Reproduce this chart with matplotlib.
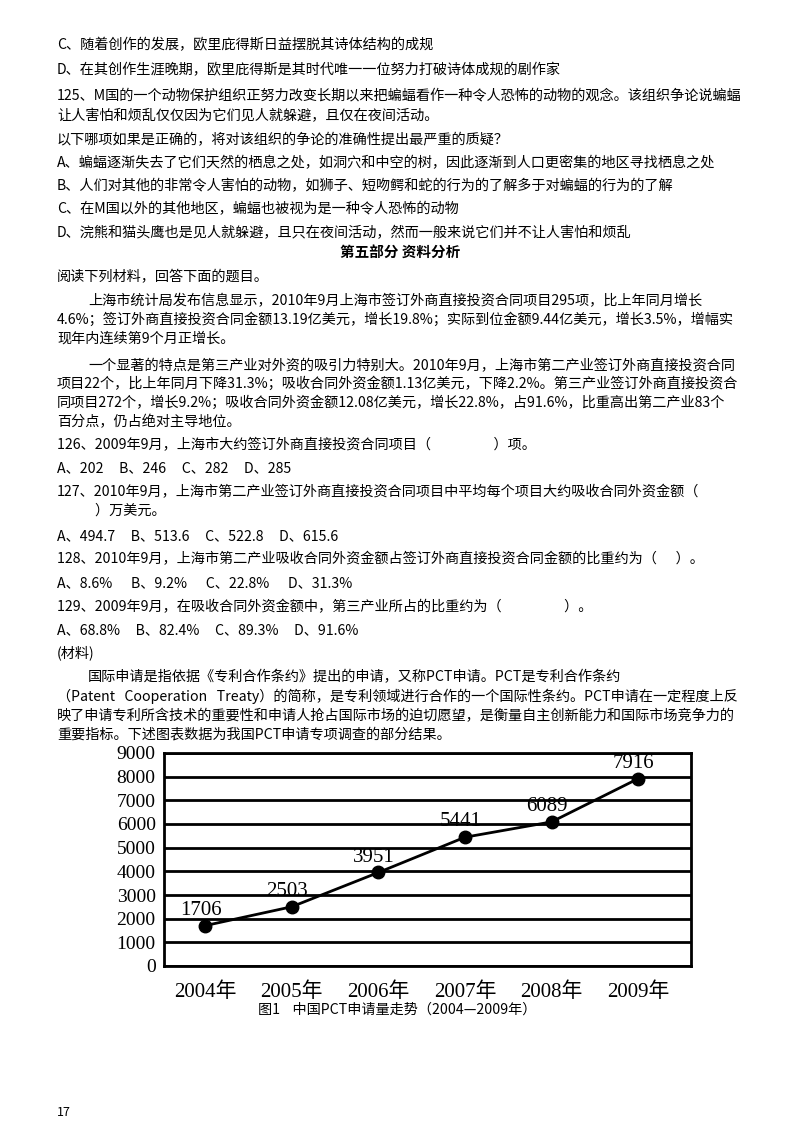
import matplotlib
matplotlib.use("Agg")
import matplotlib.pyplot as plt

years = ["2004年", "2005年", "2006年", "2007年", "2008年", "2009年"]
values = [1706, 2503, 3951, 5441, 6089, 7916]
yticks = [0, 1000, 2000, 3000, 4000, 5000, 6000, 7000, 8000, 9000]

W, H = 800, 1132
fig = plt.figure(figsize=(W/100, H/100), dpi=100)
fam = ["Noto Sans CJK SC", "DejaVu Sans"]
serif = ["Liberation Serif", "Noto Sans CJK SC"]

lines = [
    (57, 45, "C、随着创作的发展，欧里庇得斯日益摆脱其诗体结构的成规"),
    (57, 70, "D、在其创作生涯晚期，欧里庇得斯是其时代唯一一位努力打破诗体成规的剧作家"),
    (57, 95, "125、M国的一个动物保护组织正努力改变长期以来把蝙蝠看作一种令人恐怖的动物的观念。该组织争论说蝙蝠"),
    (57, 116, "让人害怕和烦乱仅仅因为它们见人就躲避，且仅在夜间活动。"),
    (57, 140, "以下哪项如果是正确的，将对该组织的争论的准确性提出最严重的质疑？"),
    (57, 163, "A、蝙蝠逐渐失去了它们天然的栖息之处，如洞穴和中空的树，因此逐渐到人口更密集的地区寻找栖息之处"),
    (57, 186, "B、人们对其他的非常令人害怕的动物，如狮子、短吻鳄和蛇的行为的了解多于对蝙蝠的行为的了解"),
    (57, 209, "C、在M国以外的其他地区，蝙蝠也被视为是一种令人恐怖的动物"),
    (57, 233, "D、浣熊和猫头鹰也是见人就躲避，且只在夜间活动，然而一般来说它们并不让人害怕和烦乱"),
    (57, 277, "阅读下列材料，回答下面的题目。"),
    (88, 301, "上海市统计局发布信息显示，2010年9月上海市签订外商直接投资合同项目295项，比上年同月增长"),
    (57, 320, "4.6%；签订外商直接投资合同金额13.19亿美元，增长19.8%；实际到位金额9.44亿美元，增长3.5%，增幅实"),
    (57, 339, "现年内连续第9个月正增长。"),
    (88, 366, "一个显著的特点是第三产业对外资的吸引力特别大。2010年9月，上海市第二产业签订外商直接投资合同"),
    (57, 384, "项目22个，比上年同月下降31.3%；吸收合同外资金额1.13亿美元，下降2.2%。第三产业签订外商直接投资合"),
    (57, 403, "同项目272个，增长9.2%；吸收合同外资金额12.08亿美元，增长22.8%，占91.6%，比重高出第二产业83个"),
    (57, 422, "百分点，仍占绝对主导地位。"),
    (57, 445, "126、2009年9月，上海市大约签订外商直接投资合同项目（                    ）项。"),
    (57, 468, "A、202     B、246     C、282     D、285"),
    (57, 492, "127、2010年9月，上海市第二产业签订外商直接投资合同项目中平均每个项目大约吸收合同外资金额（"),
    (70, 511, "        ）万美元。"),
    (57, 536, "A、494.7     B、513.6     C、522.8     D、615.6"),
    (57, 559, "128、2010年9月，上海市第二产业吸收合同外资金额占签订外商直接投资合同金额的比重约为（      ）。"),
    (57, 583, "A、8.6%      B、9.2%      C、22.8%      D、31.3%"),
    (57, 607, "129、2009年9月，在吸收合同外资金额中，第三产业所占的比重约为（                    ）。"),
    (57, 630, "A、68.8%     B、82.4%     C、89.3%     D、91.6%"),
    (57, 653, "(材料)"),
    (88, 677, "国际申请是指依据《专利合作条约》提出的申请，又称PCT申请。PCT是专利合作条约"),
    (57, 696, "（Patent   Cooperation   Treaty）的简称，是专利领域进行合作的一个国际性条约。PCT申请在一定程度上反"),
    (57, 716, "映了申请专利所含技术的重要性和申请人抢占国际市场的迫切愿望，是衡量自主创新能力和国际市场竞争力的"),
    (57, 735, "重要指标。下述图表数据为我国PCT申请专项调查的部分结果。"),
]
for x, y, s in lines:
    fig.text(x/W, 1-y/H, s, fontsize=10.2, family=fam, va="center", ha="left")

fig.text(400/W, 1-253/H, "第五部分 资料分析", fontsize=10.5, family=fam, weight="bold", va="center", ha="center")
fig.text(258/W, 1-1010/H, "图1    中国PCT申请量走势（2004—2009年）", fontsize=10.2, family=fam, va="center", ha="left")
fig.text(57/W, 1-1113/H, "17", fontsize=9, family=fam, va="center", ha="left")

left, right, top, bottom = 164, 691, 753, 966
ax = fig.add_axes([left/W, 1-bottom/H, (right-left)/W, (bottom-top)/H])
x = list(range(len(years)))
ax.plot(x, values, color="black", lw=2, marker="o", ms=9, zorder=3)
for xi, v in zip(x, values):
    ax.text(xi - 0.05, v + 250, str(v), fontsize=15, family=serif, ha="center", va="bottom")
ax.set_xlim(-0.475, 5.61)
ax.set_ylim(0, 9000)
ax.set_yticks(yticks)
ax.set_yticklabels([str(t) for t in yticks], fontsize=14, family=serif)
ax.set_xticks(x)
ax.set_xticklabels(years, fontsize=15, family=serif)
ax.tick_params(length=0, pad=12)
ax.tick_params(axis="y", pad=6)
ax.yaxis.grid(True, color="black", lw=2)
ax.set_axisbelow(True)
for sp in ax.spines.values():
    sp.set_linewidth(2)

fig.savefig("out.png", dpi=100)
